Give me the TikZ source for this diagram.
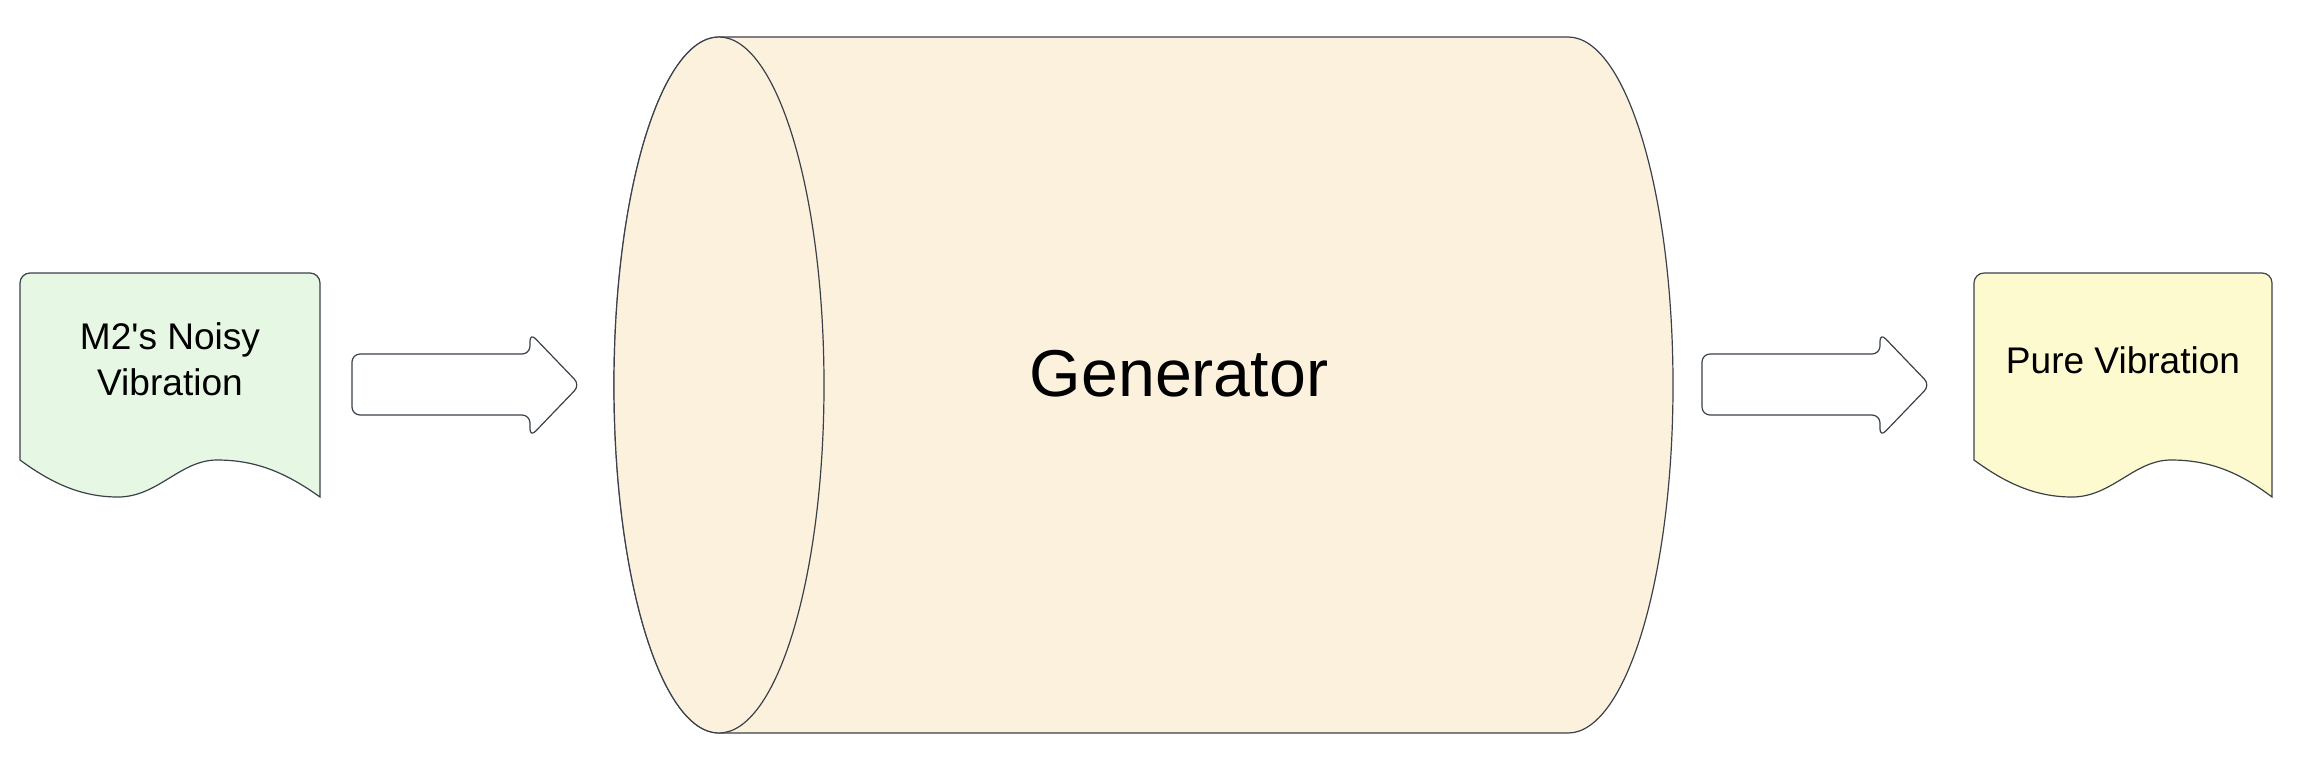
\documentclass[tikz,border=0pt]{standalone}
\usepackage{fontspec}
\setmainfont{Liberation Sans}[Ligatures=TeXOff]
\definecolor{linegray}{HTML}{3A414A}
\definecolor{noisygreen}{HTML}{E6F8E4}
\definecolor{genbeige}{HTML}{FCF1DC}
\definecolor{pureyellow}{HTML}{FEFAD0}
\tikzset{
  outline/.style={draw=linegray, line width=0.9pt},
  blockarrow/.style={outline, fill=white, rounded corners=6pt},
  doclabel/.style={inner sep=0pt, align=center, font=\fontsize{27.8}{34.5}\selectfont},
}
\begin{document}
\begin{tikzpicture}[x=0.75pt, y=-0.75pt]
  \useasboundingbox (0,0) rectangle (2312,772);

  \draw[outline, fill=noisygreen] (20,460) .. controls (50,482) and (80,497) .. (118,497)
    .. controls (158,497) and (180,460) .. (217,460) .. controls (255,460) and (285,472) .. (320,497)
    -- (320,400) [rounded corners=7.5pt] -- (320,273) -- (20,273) -- (20,400) [sharp corners] -- cycle;
  \draw[outline, fill=pureyellow] (1974,460) .. controls (2004,482) and (2034,497) .. (2072,497)
    .. controls (2112,497) and (2134,460) .. (2171,460) .. controls (2209,460) and (2239,472) .. (2272,497)
    -- (2272,400) [rounded corners=7.5pt] -- (2272,273) -- (1974,273) -- (1974,400) [sharp corners] -- cycle;

  \draw[outline, fill=genbeige] (719,37) -- (1568,37) arc[start angle=-90, end angle=90, x radius=105, y radius=348]
    -- (719,733) arc[start angle=90, end angle=270, x radius=105, y radius=348] -- cycle;
  \draw[outline, fill=genbeige] (719,385) ellipse [x radius=105, y radius=348];

  \draw[blockarrow] (352,354) -- (530,354) -- (530,333) -- (580,385) -- (530,437) -- (530,415) -- (352,415) -- cycle;
  \draw[blockarrow] (1702,354) -- (1880,354) -- (1880,333) -- (1930,385) -- (1880,437) -- (1880,415) -- (1702,415) -- cycle;

  \node[font=\fontsize{49.7}{60}\selectfont, inner sep=0pt, anchor=base] (generator) at (1179,396) {Generator};
  \node[doclabel] (noisy) at (170,359) {M2's Noisy\\Vibration};
  \node[doclabel, anchor=base] (pure) at (2123,373) {Pure Vibration};
\end{tikzpicture}
\end{document}
